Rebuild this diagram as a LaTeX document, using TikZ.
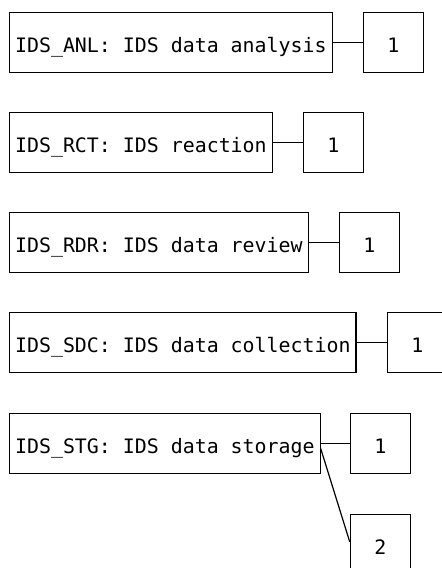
\documentclass[tikz,border=0pt]{standalone}
\usepackage{fontspec}
\newfontfamily\monofont{DejaVu Sans Mono}
\usetikzlibrary{positioning,calc}

\tikzset{
  unit/.style={draw=black, line width=1.2pt, fill=white,
    font=\monofont\fontsize{19.9}{24}\selectfont,
    text height=19.4pt, text depth=0pt, align=center,
    minimum height=60pt, inner xsep=5.5pt, inner ysep=0pt},
  countbox/.style={unit, minimum width=60pt},
  link/.style={draw=black, line width=1.2pt}
}

\begin{document}
\begin{tikzpicture}[x=1pt, y=-1pt]
  \useasboundingbox (0,0) rectangle (442,568);
  \fill[white] (0,0) rectangle (442,568);
  \clip (0,0) rectangle (442,568);

  % function modules with their multiplicities
  \node[unit, anchor=north west] (anl) at (9,12)  {IDS\_ANL: IDS data analysis};
  \node[unit, anchor=north west] (rct) at (9,112) {IDS\_RCT: IDS reaction};
  \node[unit, anchor=north west] (rdr) at (9,212) {IDS\_RDR: IDS data review};
  \node[unit, anchor=north west] (sdc) at (9,312) {IDS\_SDC: IDS data collection};
  \node[unit, anchor=north west] (stg) at (9,413) {IDS\_STG: IDS data storage};

  \node[countbox, right=30pt of anl] (anl1) {1};
  \node[countbox, right=30pt of rct] (rct1) {1};
  \node[countbox, right=30pt of rdr] (rdr1) {1};
  \node[countbox, right=30pt of sdc] (sdc1) {1};
  \node[countbox, right=29pt of stg] (stg1) {1};
  \node[countbox, below=40pt of stg1] (stg2) {2};

  % links
  \draw[link] (anl.east) -- (anl1.west);
  \draw[link] (rct.east) -- (rct1.west);
  \draw[link] (rdr.east) -- (rdr1.west);
  \draw[link] (sdc.east) -- (sdc1.west);
  \draw[link] (stg.east) -- (stg1.west);
  \draw[link] ($(stg.east)+(0,5)$) -- ($(stg2.west)+(0,-3)$);
\end{tikzpicture}
\end{document}
